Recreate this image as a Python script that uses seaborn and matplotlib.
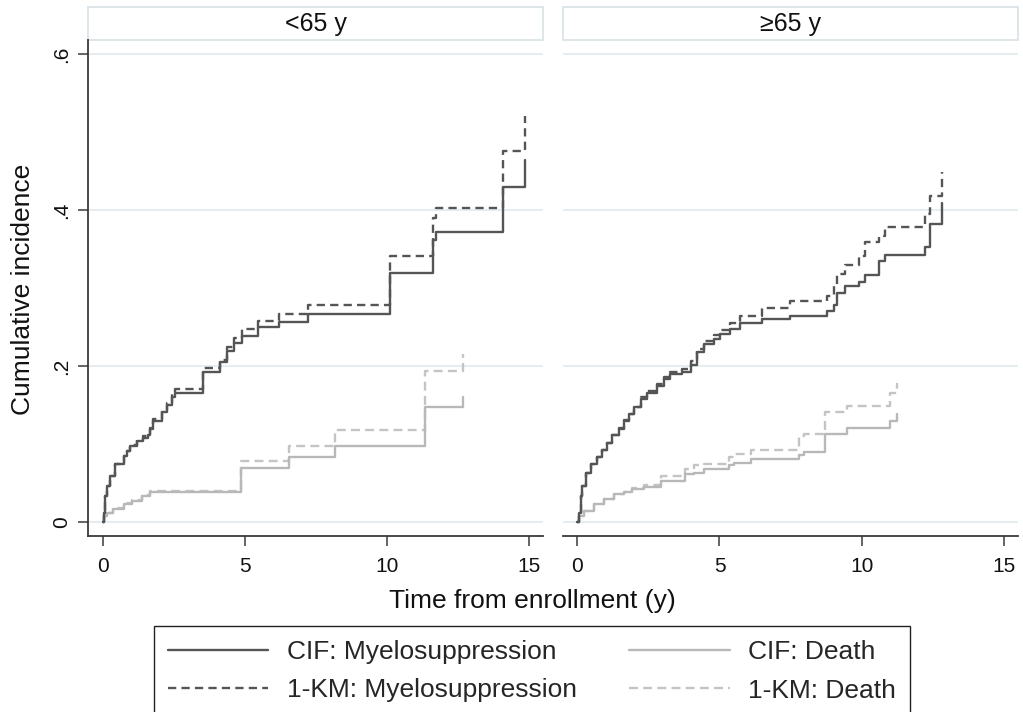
import pandas as pd
import numpy as np
import seaborn as sns
import matplotlib
matplotlib.use("Agg")
import matplotlib.pyplot as plt
from matplotlib.patches import Rectangle
from matplotlib.lines import Line2D

# panels and series
panels = ["<65 y", "\u226565 y"]
series = ["CIF: Myelosuppression", "1-KM: Myelosuppression", "CIF: Death", "1-KM: Death"]

# <65 y : myelosuppression (time in years, cumulative incidence)
young_my_t = [0, 0.03, 0.08, 0.14, 0.26, 0.43, 0.73, 0.84, 0.96, 1.19, 1.43, 1.6, 1.67, 1.78,
              2.07, 2.25, 2.42, 2.54, 3.52, 4.12, 4.36, 4.6, 4.89, 5.47, 6.2, 7.2, 10.1,
              11.6, 11.7, 14.09, 14.85]
young_cif_my = [0, 0.012, 0.033, 0.046, 0.059, 0.074, 0.085, 0.091, 0.098, 0.104, 0.108,
                0.111, 0.119, 0.13, 0.141, 0.15, 0.16, 0.166, 0.193, 0.205, 0.22, 0.23,
                0.239, 0.25, 0.257, 0.2675, 0.32, 0.362, 0.372, 0.43, 0.464]
young_km_my = [0, 0.012, 0.033, 0.046, 0.059, 0.074, 0.085, 0.091, 0.099, 0.105, 0.11,
               0.113, 0.121, 0.132, 0.144, 0.153, 0.165, 0.171, 0.198, 0.208, 0.225, 0.236,
               0.248, 0.258, 0.2675, 0.279, 0.341, 0.39, 0.403, 0.476, 0.521]

# <65 y : death
young_dt_t = [0, 0.05, 0.14, 0.37, 0.73, 1.02, 1.37, 1.66, 4.85, 6.56, 8.17, 11.33, 12.65]
young_cif_dt = [0, 0.008, 0.012, 0.017, 0.023, 0.027, 0.033, 0.038, 0.069, 0.083, 0.097, 0.148, 0.16]
young_km_dt = [0, 0.008, 0.012, 0.018, 0.024, 0.028, 0.034, 0.04, 0.078, 0.098, 0.118, 0.194, 0.216]

# >=65 y : myelosuppression
old_my_t = [0, 0.06, 0.12, 0.18, 0.29, 0.47, 0.7, 0.88, 1.05, 1.23, 1.46, 1.64, 1.82, 2.0,
            2.23, 2.46, 2.81, 3.04, 3.26, 3.67, 4.0, 4.2, 4.44, 4.79, 5.02, 5.38, 5.73, 6.49,
            7.49, 8.78, 9.01, 9.13, 9.42, 9.89, 10.13, 10.6, 10.83, 12.24, 12.42, 12.83]
old_cif_my = [0, 0.012, 0.033, 0.046, 0.063, 0.074, 0.083, 0.093, 0.102, 0.111, 0.119, 0.13,
              0.138, 0.147, 0.158, 0.166, 0.175, 0.183, 0.19, 0.193, 0.202, 0.218, 0.228,
              0.235, 0.241, 0.248, 0.255, 0.26, 0.264, 0.271, 0.278, 0.294, 0.303, 0.308,
              0.317, 0.335, 0.343, 0.353, 0.382, 0.409]
old_km_my = [0, 0.012, 0.033, 0.046, 0.063, 0.074, 0.083, 0.093, 0.102, 0.111, 0.12, 0.131,
             0.139, 0.148, 0.16, 0.168, 0.177, 0.186, 0.193, 0.196, 0.206, 0.222, 0.232, 0.24,
             0.246, 0.255, 0.264, 0.275, 0.284, 0.29, 0.303, 0.318, 0.33, 0.342, 0.359, 0.367,
             0.378, 0.395, 0.419, 0.449]

# >=65 y : death
old_dt_t = [0, 0.06, 0.23, 0.59, 0.94, 1.29, 1.64, 1.93, 2.34, 2.93, 3.8, 4.1, 4.45, 5.33,
            5.5, 6.1, 7.78, 7.96, 8.72, 9.48, 11.0, 11.24]
old_cif_dt = [0, 0.008, 0.014, 0.023, 0.029, 0.036, 0.039, 0.042, 0.045, 0.053, 0.061, 0.063,
              0.068, 0.073, 0.076, 0.081, 0.086, 0.09, 0.113, 0.12, 0.129, 0.138]
old_km_dt = [0, 0.008, 0.014, 0.023, 0.029, 0.036, 0.039, 0.044, 0.048, 0.059, 0.068, 0.073,
             0.074, 0.083, 0.087, 0.093, 0.11, 0.113, 0.141, 0.149, 0.166, 0.179]

y_ticks = [0, 0.2, 0.4, 0.6]
y_ticklabels = ["0", ".2", ".4", ".6"]
x_ticks = [0, 5, 10, 15]

# long table
rows = []
for panel, groups in [(panels[0], [(young_my_t, young_cif_my, series[0]), (young_my_t, young_km_my, series[1]),
                                   (young_dt_t, young_cif_dt, series[2]), (young_dt_t, young_km_dt, series[3])]),
                      (panels[1], [(old_my_t, old_cif_my, series[0]), (old_my_t, old_km_my, series[1]),
                                   (old_dt_t, old_cif_dt, series[2]), (old_dt_t, old_km_dt, series[3])])]:
    for t, v, s in groups:
        rows.append(pd.DataFrame({"panel": panel, "series": s, "time": t, "value": v}))
df = pd.concat(rows, ignore_index=True)

colors = {series[0]: "#555555", series[1]: "#555555", series[2]: "#b8b8b8", series[3]: "#c4c4c4"}
dashes = {series[0]: "", series[1]: (3.5, 2.2), series[2]: "", series[3]: (3.8, 2.2)}

sns.set_theme(style="white")
plt.rcParams["font.family"] = ["Liberation Sans", "DejaVu Sans"]

W, H = 1023, 712
fig = plt.figure(figsize=(W / 100, H / 100), dpi=100)
lefts = [88, 562.5]
axes = []
for i, panel in enumerate(panels):
    ax = fig.add_axes([lefts[i] / W, 1 - 536 / H, 455 / W, 496 / H])
    axes.append(ax)
    sub = df[df["panel"] == panel]
    # draw light lines first, dark on top
    order = [series[3], series[2], series[1], series[0]]
    for s in order:
        sns.lineplot(data=sub[sub["series"] == s], x="time", y="value", color=colors[s],
                     drawstyle="steps-post", estimator=None, legend=False, ax=ax,
                     linewidth=1.7, dashes=False)
        line = ax.get_lines()[-1]
        if dashes[s]:
            line.set_dashes(dashes[s])
    ax.set_xlim(-0.52, 15.48)
    ax.set_ylim(-0.018, 0.6186)
    ax.set_yticks(y_ticks)
    ax.set_xticks(x_ticks)
    ax.set_xlabel("")
    ax.set_ylabel("")
    ax.grid(axis="y", color="#e4ecef", linewidth=1.3)
    ax.grid(axis="x", visible=False)
    for side in ["top", "right"]:
        ax.spines[side].set_visible(False)
    ax.spines["bottom"].set_color("#3a3a3a")
    ax.spines["bottom"].set_linewidth(1.3)
    ax.tick_params(axis="x", bottom=True, length=7.2, width=1.1, color="#3a3a3a",
                   pad=8, labelsize=15, labelcolor="#111111")
    if i == 0:
        ax.spines["left"].set_color("#3a3a3a")
        ax.spines["left"].set_linewidth(1.3)
        ax.set_yticklabels(y_ticklabels, rotation=90, va="center")
        ax.tick_params(axis="y", left=True, length=7.2, width=1.1, color="#3a3a3a",
                       pad=5, labelsize=15, labelcolor="#111111")
    else:
        ax.spines["left"].set_visible(False)
        ax.tick_params(axis="y", left=False, labelleft=False)
    # facet header box
    ax.add_patch(Rectangle((0, 1.0), 1, 33 / 496, transform=ax.transAxes, clip_on=False,
                           facecolor="white", edgecolor="#dbe4e8", linewidth=1.3))
    ax.text(0.5, 1 + 16 / 496, panel, transform=ax.transAxes, ha="center", va="center",
            fontsize=18, color="#111111")

fig.text(23 / W, 1 - 289 / H, "Cumulative incidence", rotation=90, ha="center", va="center",
         fontsize=19, color="#111111")
fig.text(532 / W, 1 - 601 / H, "Time from enrollment (y)", ha="center", va="center",
         fontsize=19, color="#111111")

handles = []
for s in series:
    h = Line2D([], [], color=colors[s], linewidth=1.7)
    if dashes[s]:
        h.set_dashes(dashes[s])
    handles.append(h)
leg = fig.legend(handles, series, ncol=2, loc="upper center", bbox_to_anchor=(532 / W, 1 - 626 / H),
                 fontsize=19, frameon=True, fancybox=False, framealpha=1, edgecolor="#222222",
                 handlelength=3.8, handletextpad=0.7, columnspacing=2.0, borderpad=0.53,
                 labelspacing=0.55, borderaxespad=0)
leg.get_frame().set_linewidth(1.0)

fig.savefig("out.png", dpi=100)
